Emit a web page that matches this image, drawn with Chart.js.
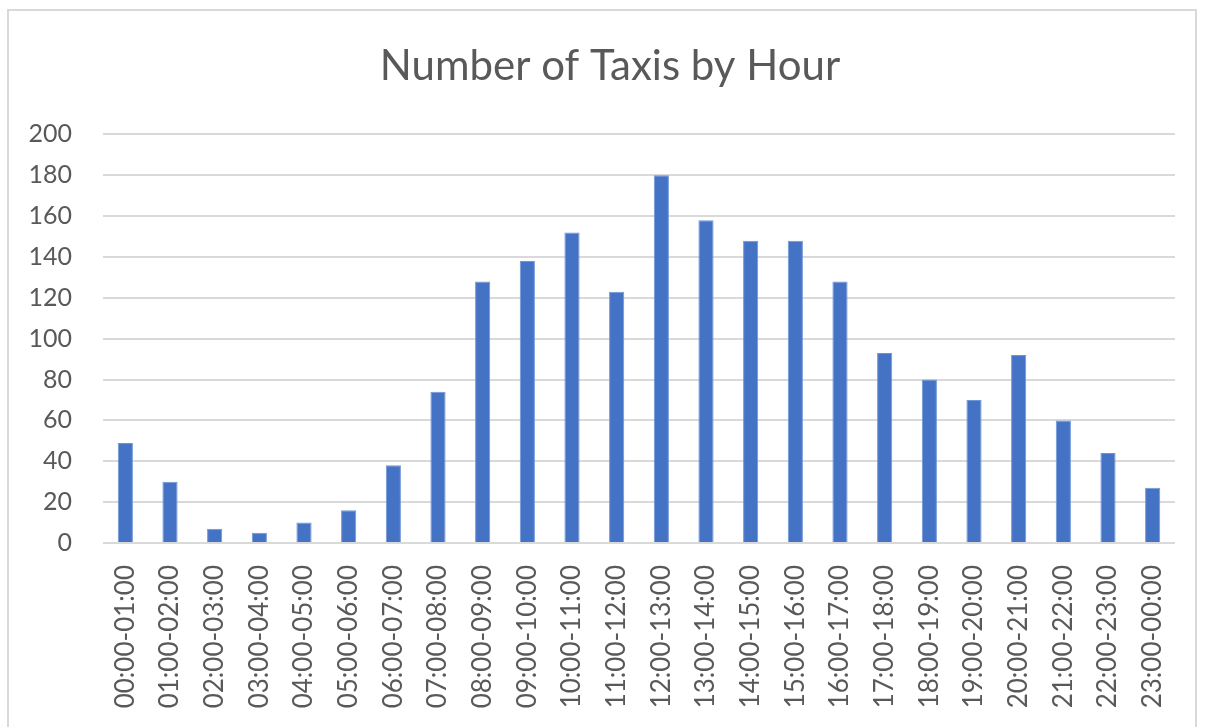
<!DOCTYPE html>
<html>
<head>
<meta charset="utf-8">
<script src="https://cdn.jsdelivr.net/npm/chart.js@4"></script>
<style>
    body { margin: 0; background: #fff; }
    #frame {
        position: absolute; left: 7px; top: 9px; width: 1190px; height: 740px;
        border: 2px solid #d9d9d9; box-sizing: border-box;
    }
    #wrap { position: absolute; left: 0; top: 0; width: 1205px; height: 727px; }
</style>
</head>
<body>
<div id="frame"></div>
<div id="wrap"><canvas id="taxiChart"></canvas></div>
<script>
// hourly slots and counts
const hours = ['00:00-01:00', '01:00-02:00', '02:00-03:00', '03:00-04:00', '04:00-05:00', '05:00-06:00',
    '06:00-07:00', '07:00-08:00', '08:00-09:00', '09:00-10:00', '10:00-11:00', '11:00-12:00',
    '12:00-13:00', '13:00-14:00', '14:00-15:00', '15:00-16:00', '16:00-17:00', '17:00-18:00',
    '18:00-19:00', '19:00-20:00', '20:00-21:00', '21:00-22:00', '22:00-23:00', '23:00-00:00'];
const taxis = [49, 30, 7, 5, 10, 16, 38, 74, 128, 138, 152, 123, 180, 158, 148, 148, 128, 93, 80, 70, 92, 60, 44, 27];
const yTicks = [0, 20, 40, 60, 80, 100, 120, 140, 160, 180, 200];

const textColor = '#595959';
const fontFamily = 'Lato, "Open Sans", sans-serif';

// nudge the title box so the title sits centred the way the original does
const titleShift = {
    id: 'titleShift',
    afterLayout(chart) {
        if (chart.titleBlock) {
            chart.titleBlock.left = 45;
        }
    }
};

const ctx = document.getElementById('taxiChart').getContext('2d');

const chart = new Chart(ctx, {
    type: 'bar',
    data: {
        labels: hours,
        datasets: [{
            label: 'Taxis',
            data: taxis,
            backgroundColor: '#4472c4',
            borderColor: '#6f95d6',
            borderWidth: 1,
            barPercentage: 0.34,
            categoryPercentage: 1
        }]
    },
    options: {
        responsive: true,
        maintainAspectRatio: false,
        animation: false,
        layout: {
            padding: { left: 0, right: 30, top: 0, bottom: 0 }
        },
        scales: {
            x: {
                grid: { display: false },
                border: { display: false },
                ticks: {
                    color: textColor,
                    font: { family: fontFamily, size: 26 },
                    minRotation: 90,
                    maxRotation: 90,
                    autoSkip: false,
                    padding: 14
                },
                afterFit: function(scale) { scale.height = 184; }
            },
            y: {
                min: 0,
                max: 200,
                afterBuildTicks: function(scale) {
                    scale.ticks = yTicks.map(v => ({ value: v }));
                },
                grid: { color: '#d9d9d9', lineWidth: 2, drawTicks: false },
                border: { display: false },
                ticks: {
                    color: textColor,
                    font: { family: fontFamily, size: 25 },
                    padding: 31
                },
                afterFit: function(scale) { scale.width = 103; }
            }
        },
        plugins: {
            legend: { display: false },
            tooltip: { enabled: false },
            title: {
                display: true,
                text: 'Number of Taxis by Hour',
                color: textColor,
                font: { family: fontFamily, size: 42, weight: 'normal' },
                padding: { top: 41, bottom: 43 }
            }
        }
    },
    plugins: [titleShift]
});
</script>
</body>
</html>
